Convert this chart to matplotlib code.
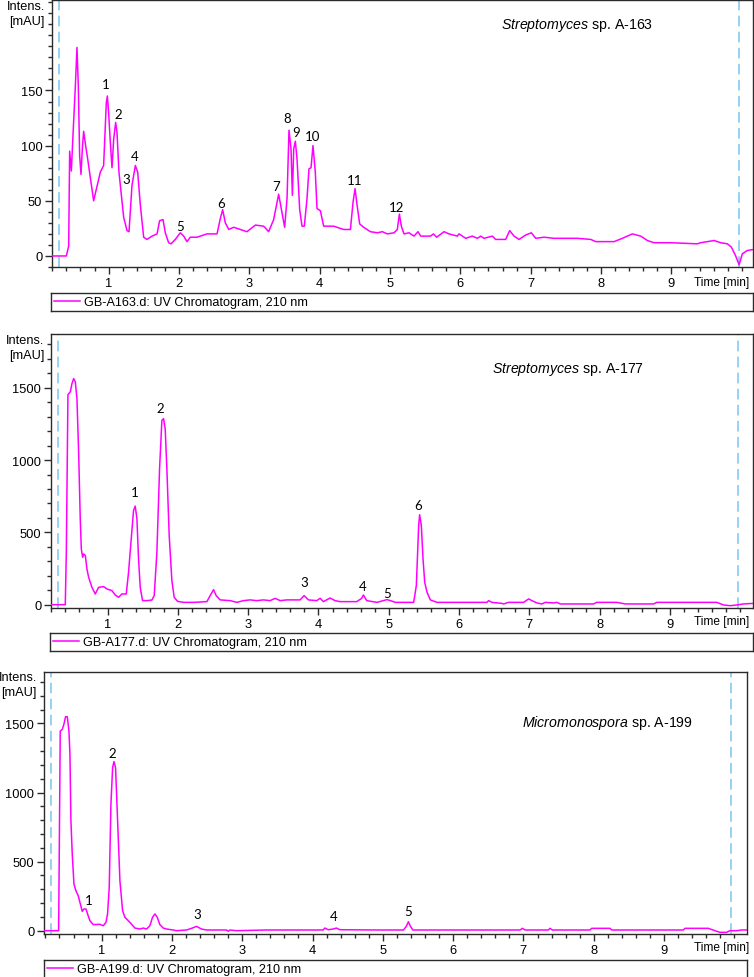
import numpy as np
import matplotlib
matplotlib.use("Agg")
import matplotlib.pyplot as plt
from matplotlib.ticker import MultipleLocator, FixedLocator
from matplotlib.lines import Line2D

plt.rcParams['font.family'] = ['Liberation Sans', 'DejaVu Sans']
plt.rcParams['mathtext.fontset'] = 'custom'
plt.rcParams['mathtext.rm'] = 'Liberation Sans'
plt.rcParams['mathtext.it'] = 'Liberation Sans:italic'

# ---- data (time in min, intensity in mAU) ----
t163 = [0.195, 0.399, 0.432, 0.446, 0.470, 0.493, 0.527, 0.550, 0.569, 0.588, 0.607, 0.626, 0.645,
        0.673, 0.702, 0.787, 0.882, 0.929, 0.967, 0.982, 1.000, 1.024, 1.048, 1.072, 1.100, 1.119,
        1.147, 1.176, 1.214, 1.261, 1.290, 1.332, 1.380, 1.413, 1.451, 1.498, 1.545, 1.617, 1.688,
        1.725, 1.773, 1.806, 1.853, 1.887, 1.948, 2.019, 2.067, 2.114, 2.161, 2.256, 2.398, 2.541,
        2.588, 2.621, 2.659, 2.707, 2.778, 2.872, 2.967, 3.086, 3.204, 3.275, 3.346, 3.417, 3.465,
        3.502, 3.536, 3.564, 3.593, 3.612, 3.631, 3.654, 3.678, 3.716, 3.749, 3.782, 3.820, 3.848,
        3.877, 3.905, 3.938, 3.962, 4.010, 4.057, 4.128, 4.199, 4.341, 4.437, 4.475, 4.503, 4.532,
        4.569, 4.626, 4.721, 4.820, 4.891, 4.962, 5.057, 5.104, 5.133, 5.161, 5.199, 5.270, 5.341,
        5.398, 5.436, 5.578, 5.616, 5.663, 5.768, 5.839, 5.957, 5.981, 6.076, 6.170, 6.242, 6.289,
        6.336, 6.455, 6.502, 6.644, 6.701, 6.763, 6.834, 6.929, 7.009, 7.071, 7.190, 7.331, 7.474,
        7.663, 7.853, 7.924, 8.185, 8.303, 8.445, 8.564, 8.659, 8.753, 8.990, 9.369, 9.417, 9.606,
        9.701, 9.796, 9.853, 9.914, 9.962, 10.009, 10.080, 10.180]
i163 = [0, 0, 9, 95, 77, 109, 154, 189, 154, 91, 74, 97, 113,
        100, 88, 50, 76, 82, 139, 145, 130, 103, 80, 106, 121, 112,
        76, 58, 35, 23, 22, 64, 82, 76, 46, 17, 15, 18, 20,
        32, 33, 21, 12, 11, 15, 21, 18, 13, 17, 17, 20, 20,
        34, 42, 30, 24, 26, 24, 22, 28, 27, 22, 33, 56, 39,
        26, 52, 114, 97, 55, 97, 104, 88, 42, 27, 27, 52, 79,
        80, 100, 76, 43, 41, 27, 27, 27, 24, 24, 49, 61, 46,
        29, 26, 22, 21, 22, 20, 21, 24, 38, 27, 20, 21, 18,
        22, 18, 18, 20, 17, 22, 20, 18, 20, 16, 18, 16, 18,
        16, 18, 15, 15, 23, 18, 15, 19, 21, 16, 17, 16, 16,
        16, 15, 13, 13, 16, 20, 18, 14, 12, 12, 11, 12, 14,
        12, 11, 8, 0, -8, 2, 5, 6]

t177 = [0.196, 0.399, 0.414, 0.437, 0.470, 0.494, 0.518, 0.542, 0.565, 0.589, 0.612, 0.627, 0.646,
        0.660, 0.684, 0.707, 0.731, 0.778, 0.826, 0.873, 0.944, 0.991, 1.063, 1.110, 1.157, 1.205,
        1.266, 1.299, 1.337, 1.370, 1.394, 1.418, 1.441, 1.465, 1.498, 1.560, 1.631, 1.664, 1.702,
        1.740, 1.773, 1.797, 1.820, 1.844, 1.877, 1.915, 1.948, 1.996, 2.081, 2.223, 2.413, 2.460,
        2.508, 2.545, 2.602, 2.744, 2.839, 2.934, 3.028, 3.123, 3.218, 3.313, 3.384, 3.455, 3.549,
        3.739, 3.796, 3.857, 3.976, 4.023, 4.070, 4.165, 4.236, 4.307, 4.544, 4.615, 4.639, 4.686,
        4.833, 4.975, 5.022, 5.093, 5.354, 5.392, 5.425, 5.439, 5.463, 5.487, 5.511, 5.544, 5.591,
        5.686, 6.396, 6.420, 6.467, 6.609, 6.633, 6.704, 6.918, 6.989, 7.036, 7.107, 7.178, 7.225,
        7.344, 7.391, 7.438, 7.912, 7.959, 8.243, 8.362, 8.765, 8.812, 9.665, 9.760, 9.855, 9.949,
        10.043, 10.190]
i177 = [0, 0, 363, 1453, 1472, 1529, 1564, 1541, 1425, 1056, 594, 386, 328,
        351, 340, 247, 190, 120, 74, 120, 125, 109, 97, 67, 51, 74,
        74, 224, 455, 652, 682, 594, 317, 120, 28, 28, 32, 63, 363,
        940, 1275, 1287, 1218, 940, 478, 167, 51, 23, 16, 16, 21, 63,
        104, 63, 33, 28, 16, 28, 33, 28, 33, 28, 44, 28, 33,
        33, 63, 33, 28, 44, 21, 46, 28, 21, 21, 44, 67, 28,
        16, 35, 28, 16, 16, 132, 548, 622, 548, 317, 155, 86, 33,
        16, 16, 28, 16, 9, 5, 16, 16, 40, 28, 12, 5, 16,
        12, 16, 5, 5, 16, 16, 5, 5, 16, 16, -2, -7, -2,
        5, 9]

t199 = [0.184, 0.388, 0.397, 0.411, 0.440, 0.463, 0.487, 0.511, 0.535, 0.549, 0.563, 0.582, 0.606,
        0.634, 0.667, 0.691, 0.724, 0.748, 0.777, 0.800, 0.833, 0.881, 0.975, 1.023, 1.061, 1.084,
        1.108, 1.132, 1.156, 1.175, 1.198, 1.227, 1.260, 1.298, 1.331, 1.402, 1.473, 1.544, 1.592,
        1.639, 1.686, 1.724, 1.758, 1.791, 1.828, 1.876, 1.923, 2.018, 2.066, 2.208, 2.279, 2.350,
        2.421, 2.492, 2.777, 2.800, 2.824, 2.918, 3.345, 3.819, 4.151, 4.175, 4.222, 4.293, 4.340,
        4.388, 4.914, 5.293, 5.331, 5.364, 5.388, 5.426, 6.952, 6.985, 7.023, 7.355, 7.378, 7.411,
        7.947, 7.971, 8.232, 8.255, 9.274, 9.298, 9.630, 9.724, 9.795, 9.890, 9.938, 10.033, 10.104,
        10.175]
i199 = [0, 0, 554, 1445, 1457, 1494, 1549, 1549, 1445, 1277, 795, 554, 337,
        289, 253, 205, 140, 157, 157, 121, 72, 44, 46, 36, 60, 121,
        313, 916, 1180, 1224, 1180, 795, 361, 145, 97, 60, 19, 12, 19,
        12, 36, 97, 121, 97, 44, 19, 12, 5, 0, 5, 17, 31,
        12, 5, 5, -5, 5, 0, 5, 5, 5, 19, 7, 12, 19,
        7, 5, 5, 29, 65, 36, 5, 5, 17, 5, 5, 17, 5,
        5, 17, 17, 5, 5, 17, 17, 0, -12, -12, 0, 0, 5,
        5]

# peak numbers: (time, height of label)
pk163_t = [0.963, 1.133, 1.253, 1.365, 2.019, 2.602, 3.384, 3.536, 3.669, 3.905, 4.493, 5.090]
pk163_y = [156, 129, 70, 91, 27, 48, 63, 125, 112, 109, 69, 44]
pk177_t = [1.380, 1.749, 3.796, 4.629, 4.975, 5.411]
pk177_y = [779, 1361, 155, 127, 81, 691]
pk199_t = [0.810, 1.156, 2.364, 4.303, 5.364]
pk199_y = [224, 1289, 121, 109, 140]

marks163 = [0.29, 9.96]
marks177 = [0.30, 9.97]
marks199 = [0.28, 9.95]

strains = ["Streptomyces", "Streptomyces", "Micromonospora"]
strain_ids = ["A-163", "A-177", "A-199"]
files = ["GB-A163.d", "GB-A177.d", "GB-A199.d"]

W, H = 754, 978
fig = plt.figure(figsize=(W / 100, H / 100), dpi=100)
MAG = '#FF00FF'
BLUE = '#79C6EE'
SPINE = '#2b2b2b'


def box(l, t, r, b):
    return fig.add_axes([l / W, 1 - b / H, (r - l) / W, (b - t) / H])


def fx(x):
    return x / W


def fy(y):
    return 1 - y / H


panels = [
    # data, labels, marks, axes box px, ylim, y major, y minor, legend box px, title px
    (t163, i163, pk163_t, pk163_y, marks163, (52, 1, 753, 268), (-10, 232), 50, 10,
     (51, 294, 753, 312), (577, 25), 283),
    (t177, i177, pk177_t, pk177_y, marks177, (51, 334.5, 753, 609), (-23, 1876), 500, 100,
     (50, 634, 753, 652), (568, 369), 622),
    (t199, i199, pk199_t, pk199_y, marks199, (44, 672.5, 747, 935), (-24, 1876), 500, 100,
     (44, 961, 747, 979), (607, 723), 948),
]

for k, (t, inten, pt, py, marks, ab, ylim, ymaj, ymin, lb, tp, tly) in enumerate(panels):
    ax = box(*ab)
    ax.plot(t, inten, color=MAG, lw=1.1, zorder=3)
    for m in marks:
        ax.axvline(m, color=BLUE, lw=1.1, ls=(0, (7, 3.5)), zorder=2)
    ax.set_xlim(t[0] if k < 2 else 0.18, 10.18 if k else 10.16)
    ax.set_ylim(*ylim)
    ax.xaxis.set_major_locator(FixedLocator(range(1, 10)))
    ax.xaxis.set_minor_locator(MultipleLocator(0.2))
    ax.yaxis.set_minor_locator(MultipleLocator(ymin))
    ax.set_yticks([v for v in range(0, 4 * ymaj, ymaj)])
    ax.tick_params(which='major', direction='out', length=5, width=1, color=SPINE,
                   labelsize=9.3, pad=2)
    ax.tick_params(which='minor', direction='out', length=3, width=1, color=SPINE)
    for s in ax.spines.values():
        s.set_color(SPINE)
        s.set_linewidth(1)
    for n, (xx, yy) in enumerate(zip(pt, py), start=1):
        ax.text(xx, yy, str(n), ha='center', va='center', fontsize=9.5,
                family=['Lato', 'DejaVu Sans'])
    fig.text(fx(749), fy(tly), "Time [min]", ha='right', va='center', fontsize=8.6)
    fig.text(fx(ab[0] - 7), fy(ab[1] + 6), "Intens.", ha='right', va='center', fontsize=9.2)
    fig.text(fx(ab[0] - 7), fy(ab[1] + 21), "[mAU]", ha='right', va='center', fontsize=9.2)
    fig.text(fx(tp[0]), fy(tp[1]), r"$\mathit{%s}$ sp. %s" % (strains[k], strain_ids[k]),
             ha='center', va='center', fontsize=10.2)

    lax = box(*lb)
    lax.set_xticks([])
    lax.set_yticks([])
    for s in lax.spines.values():
        s.set_color(SPINE)
        s.set_linewidth(1)
    lax.legend(handles=[Line2D([], [], color=MAG, lw=1.1)],
               labels=[files[k] + ": UV Chromatogram, 210 nm"],
               loc='center left', frameon=False, fontsize=9.1, handlelength=2.1,
               handletextpad=0.3, borderaxespad=0.0, borderpad=0.2)

fig.savefig("out.png", dpi=100)
